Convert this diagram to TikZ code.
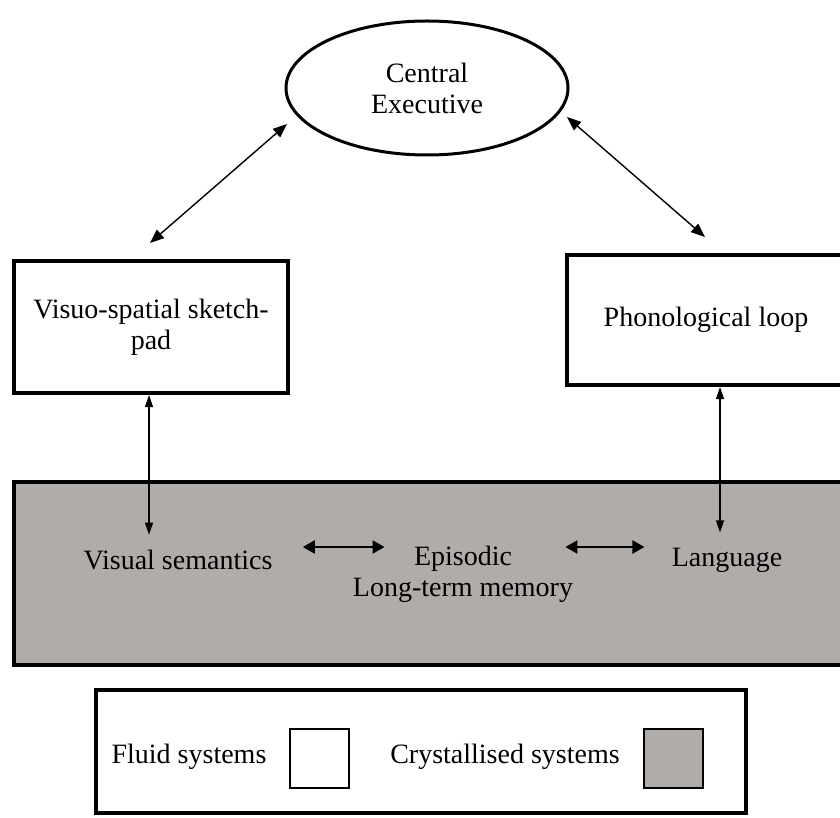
\documentclass[tikz,border=0pt]{standalone}
\usepackage{fontspec}
\setmainfont{Liberation Serif}
\usetikzlibrary{arrows.meta,shapes.geometric,calc}
\definecolor{crystal}{RGB}{176,172,170}

\begin{document}
\begin{tikzpicture}[
            x=0.5pt, y=-0.5pt,
            every node/.append style={black, font=\fontsize{14}{15.5}\selectfont},
            label/.style={inner sep=0pt, align=center},
            fluid/.style={draw, line width=2pt, fill=white, align=center, inner sep=0pt},
            exec/.style={ellipse, draw, line width=1.5pt, fill=white, align=center,
                inner sep=0pt, minimum width=141pt, minimum height=67pt},
            band/.style={draw, line width=2pt, fill=crystal, inner sep=0pt,
                minimum width=416pt, minimum height=91.5pt},
            swatch/.style={draw, line width=1pt, inner sep=0pt, minimum size=29.5pt},
            link/.style={{Triangle[length=7pt,width=5.5pt]}-{Triangle[length=7pt,width=5.5pt]},
                line width=0.7pt},
            riser/.style={{Triangle[length=6pt,width=4pt]}-{Triangle[length=6pt,width=4pt]},
                line width=0.6pt},
            tie/.style={{Triangle[length=6pt,width=6.5pt]}-{Triangle[length=6pt,width=6.5pt]},
                line width=1.1pt}
        ]
            \useasboundingbox (0,0) rectangle (840,818);
            \clip (0,0) rectangle (840,818);

            \node[exec] (exec) at (427,88) {Central\\Executive};
            \node[fluid, minimum width=137pt, minimum height=66pt] (vssp) at (151,327)
                {Visuo-spatial sketch-\\pad};
            \node[fluid, minimum width=139pt, minimum height=65pt] (phon) at (706,320)
                {Phonological loop};

            \node[band] (ltm) at (430,573.5) {};
            \node[label] (vis) at (178,560) {Visual semantics};
            \node[label] (epi) at (463,574) {Episodic\\Long-term memory};
            \node[label] (lang) at (727,560) {Language};

            \draw [link] ($(exec)+(-140,36)$)
                -- ($(vssp.north)+(-1,-16)$)
            ;
            \draw [link] ($(exec)+(140,29)$)
                -- ($(phon.north)+(-1,-16)$)
            ;
            \draw [riser] ($(vssp.south)+(-2,0)$)
                -- ($(vssp.south |- vis.north)+(-2,-15)$)
            ;
            \draw [riser] ($(phon.south)+(14,0)$)
                -- ($(phon.south |- lang.north)+(14,-15)$)
            ;
            \draw [tie] ($(vis.east)+(30,-13)$)
                -- ($(epi.west)+(32,-27)$)
            ;
            \draw [tie] ($(epi.east)+(-8,-27)$)
                -- ($(lang.west)+(-27,-13)$)
            ;

            \node[fluid, minimum width=325pt, minimum height=61.5pt] (key) at (421,751.5) {};
            \node[label] (fluidtxt) at (189,757) {Fluid systems};
            \node[swatch, fill=white] (fluidbox) at (319.5,758) {};
            \node[label] (crysttxt) at (505,757) {Crystallised systems};
            \node[swatch, fill=crystal] (crystbox) at (673,758) {};
        \end{tikzpicture}
\end{document}
